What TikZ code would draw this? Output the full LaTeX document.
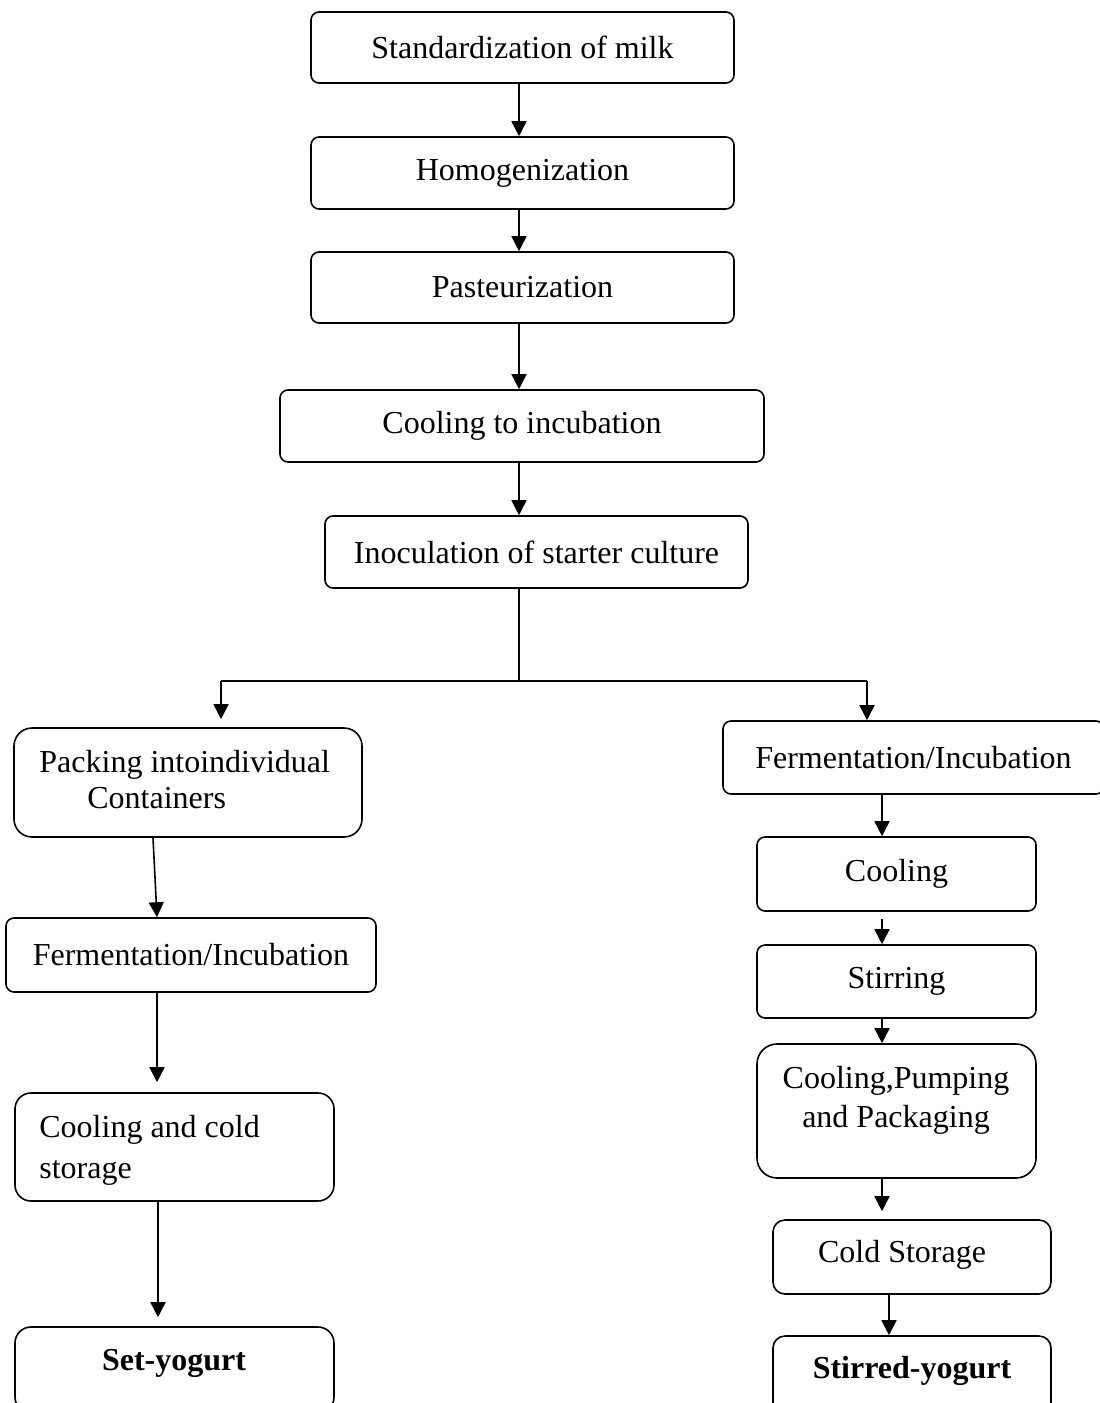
\documentclass[tikz,border=0pt]{standalone}
\usepackage{fontspec}
\setmainfont{Liberation Serif}
\usepackage{tikz}
\usetikzlibrary{arrows.meta,positioning,calc}

\begin{document}
\begin{tikzpicture}[x=0.5pt,y=-0.5pt,
  font=\fontsize{16}{19.5}\selectfont,
  stepbox/.style={draw,line width=0.8pt,rounded corners=4pt,inner sep=0pt},
  sz/.style 2 args={minimum width=#1*0.5pt,minimum height=#2*0.5pt},
  txt/.style={inner sep=0pt},
  arr/.style={line width=0.8pt,-{Triangle[length=7.5pt,width=7.5pt]}},
]
\useasboundingbox (0,0) rectangle (1099,1403);

% main column
\node[stepbox,sz={423}{71}] (std)  at (522.5,47.5) {Standardization of milk};
\node[stepbox,sz={423}{72}] (homo) at (522.5,173)  {Homogenization};
\node[stepbox,sz={423}{71}] (past) at (522.5,287.5) {Pasteurization};
\node[stepbox,sz={484}{72}] (cool) at (522,426)    {Cooling to incubation};
\node[stepbox,sz={423}{72}] (inoc) at (536.5,552)  {Inoculation of starter culture};

% set yogurt
\node[stepbox,sz={348}{109},rounded corners=9pt] (pack) at (188,782.5) {};
\node[txt,anchor=base west] (packA) at (39,772) {Packing intoindividual};
\node[txt,anchor=base west] (packB) at (87,808) {Containers};
\node[stepbox,sz={370}{74}] (fermL) at (191,955) {Fermentation/Incubation};
\node[stepbox,sz={319}{108},rounded corners=8pt] (ccs) at (174.5,1147) {};
\node[txt,anchor=base west] (ccsA) at (39,1137) {Cooling and cold};
\node[txt,anchor=base west] (ccsB) at (39,1178) {storage};
\node[stepbox,sz={319}{86},rounded corners=8pt] (set) at (174.5,1370) {};
\node[txt,anchor=base,font=\fontsize{16}{19.5}\selectfont\bfseries] (setT) at (174,1370) {Set-yogurt};

% stirred yogurt
\node[stepbox,sz={381}{73}] (fermR) at (913.5,757.5) {Fermentation/Incubation};
\node[stepbox,sz={279}{74}] (coolR) at (896.5,874)   {Cooling};
\node[stepbox,sz={279}{73}] (stir)  at (896.5,981.5) {Stirring};
\node[stepbox,sz={279}{134},rounded corners=10pt] (cpp) at (896.5,1111) {};
\node[txt,anchor=base] (cppA) at (896,1088) {Cooling,Pumping};
\node[txt,anchor=base] (cppB) at (896,1127) {and Packaging};
\node[stepbox,sz={278}{74},rounded corners=6pt] (cold) at (912,1257) {};
\node[txt,anchor=base] (coldT) at (902,1262) {Cold Storage};
\node[stepbox,sz={278}{86},rounded corners=6pt] (stirred) at (912,1379) {};
\node[txt,anchor=base,font=\fontsize{16}{19.5}\selectfont\bfseries] (stirredT) at (912,1378) {Stirred-yogurt};

\coordinate (mid)   at (519,0);
\coordinate (split) at (519,681);
\coordinate (brL)   at (221,681);
\coordinate (brR)   at (867,681);
\coordinate (colL)  at (157,0);
\coordinate (colR)  at (882,0);

\draw[arr] (std.south -| mid)  -- (homo.north -| mid);
\draw[arr] (homo.south -| mid) -- (past.north -| mid);
\draw[arr] (past.south -| mid) -- (cool.north -| mid);
\draw[arr] (cool.south -| mid) -- (inoc.north -| mid);

\draw[line width=0.8pt] (inoc.south -| mid) -- (split);
\draw[line width=0.8pt] (brL) -- (brR);
\draw[arr,shorten >=4pt] (brL) -- (pack.north -| brL);
\draw[arr] (brR) -- (fermR.north -| brR);

\draw[arr] ($(pack.south -| colL)+(-4,0)$) -- (fermL.north -| colL);
\draw[arr,shorten >=5pt] (fermL.south -| colL) -- (ccs.north -| colL);
\draw[arr,shorten >=4.5pt] ($(ccs.south -| colL)+(1,0)$) -- ($(set.north -| colL)+(1,0)$);

\draw[arr] (fermR.south -| colR) -- (coolR.north -| colR);
\draw[arr,shorten <=3.5pt] (coolR.south -| colR) -- (stir.north -| colR);
\draw[arr] (stir.south -| colR) -- (cpp.north -| colR);
\draw[arr,shorten >=4pt] (cpp.south -| colR) -- (cold.north -| colR);
\draw[arr] ($(cold.south -| colR)+(7,0)$) -- ($(stirred.north -| colR)+(7,0)$);
\end{tikzpicture}
\end{document}
